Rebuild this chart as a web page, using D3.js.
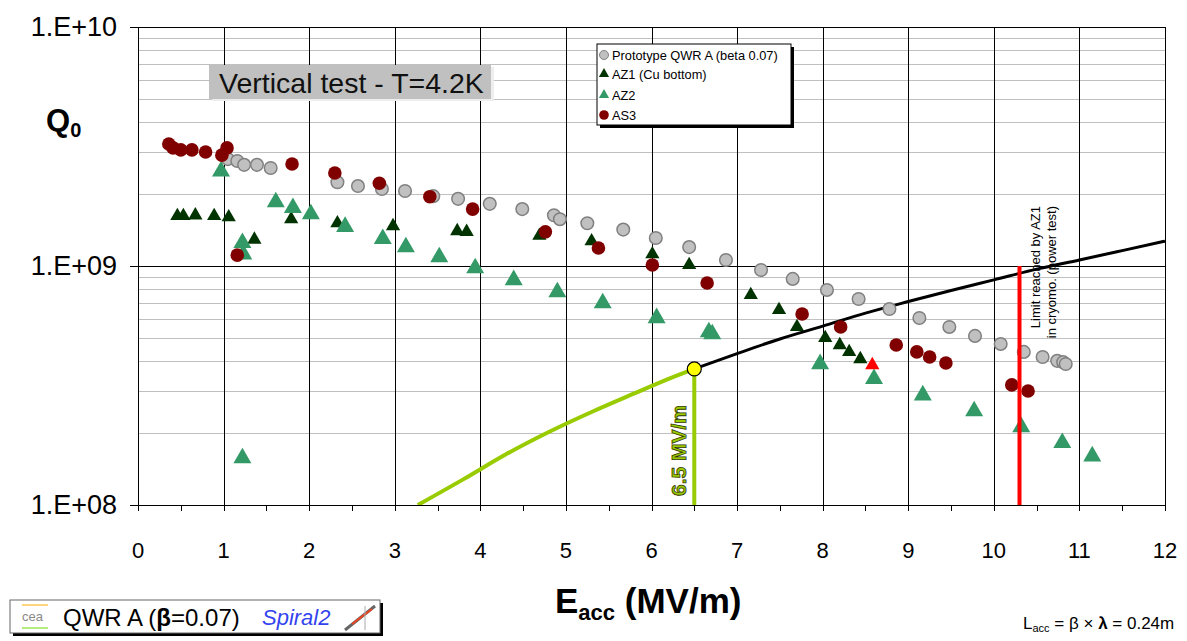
<!DOCTYPE html>
<html>
  <head>
    <script src="https://d3js.org/d3.v7.min.js"></script>
    <style>
      body,
      html {
        margin: 0;
        padding: 0;
        background: #fff;
        font-family: "Liberation Sans", Arial, sans-serif;
        overflow: hidden;
      }
    </style>
    <title>QWR A - Q0 vs Eacc</title>
  </head>

  <body>
    <svg id="chart" width="1187" height="641"></svg>

    <script>
      // Prototype QWR A (beta 0.07)
      var protoE = [1.05, 1.16, 1.24, 1.39, 1.55, 2.33, 2.57, 2.85, 3.12, 3.45, 3.74, 4.11, 4.49, 4.86, 4.93, 5.25, 5.67, 6.05, 6.44, 6.87, 7.28, 7.65, 8.05, 8.42, 8.78, 9.13, 9.48, 9.78, 10.08, 10.35, 10.57, 10.74, 10.81, 10.84];
      var protoQ = [2.8e9, 2.75e9, 2.65e9, 2.65e9, 2.57e9, 2.24e9, 2.16e9, 2.1e9, 2.06e9, 1.96e9, 1.91e9, 1.82e9, 1.73e9, 1.63e9, 1.57e9, 1.51e9, 1.42e9, 1.31e9, 1.2e9, 1.06e9, 9.62e8, 8.83e8, 7.94e8, 7.28e8, 6.61e8, 6.06e8, 5.56e8, 5.1e8, 4.72e8, 4.37e8, 4.16e8, 4.01e8, 3.96e8, 3.89e8];

      // AZ1 (Cu bottom)
      var az1E = [0.46, 0.53, 0.67, 0.89, 1.06, 1.36, 1.79, 2.33, 2.98, 3.73, 3.84, 4.69, 5.3, 6.01, 6.44, 7.16, 7.49, 7.7, 8.03, 8.2, 8.31, 8.44];
      var az1Q = [1.62e9, 1.62e9, 1.63e9, 1.62e9, 1.6e9, 1.29e9, 1.57e9, 1.51e9, 1.47e9, 1.4e9, 1.39e9, 1.34e9, 1.27e9, 1.12e9, 1.01e9, 7.57e8, 6.55e8, 5.56e8, 5.0e8, 4.67e8, 4.37e8, 4.08e8];
      // last AZ1 point, shown in red
      var az1LastE = [8.58];
      var az1LastQ = [3.85e8];

      // AZ2
      var az2E = [0.97, 1.22, 1.23, 1.22, 1.61, 1.81, 2.02, 2.42, 2.86, 3.13, 3.52, 3.94, 4.39, 4.9, 5.43, 6.06, 6.67, 6.71, 7.97, 8.6, 9.17, 9.77, 10.32, 10.8, 11.15];
      var az2Q = [2.49e9, 1.25e9, 1.12e9, 1.57e8, 1.85e9, 1.75e9, 1.65e9, 1.46e9, 1.3e9, 1.2e9, 1.09e9, 9.8e8, 8.74e8, 7.78e8, 6.99e8, 6.06e8, 5.29e8, 5.19e8, 3.89e8, 3.37e8, 2.88e8, 2.47e8, 2.12e8, 1.82e8, 1.6e8];

      // AS3
      var as3E = [0.36, 0.41, 0.5, 0.63, 0.79, 0.98, 1.04, 1.16, 1.8, 2.3, 2.82, 3.41, 3.91, 4.76, 5.38, 6.01, 6.65, 7.76, 8.21, 8.86, 9.1, 9.25, 9.44, 10.21, 10.4];
      var as3Q = [3.24e9, 3.12e9, 3.06e9, 3.06e9, 3.0e9, 2.91e9, 3.12e9, 1.11e9, 2.67e9, 2.45e9, 2.22e9, 1.95e9, 1.73e9, 1.39e9, 1.19e9, 1.01e9, 8.49e8, 6.3e8, 5.56e8, 4.67e8, 4.37e8, 4.16e8, 3.93e8, 3.18e8, 3.0e8];

      // limit curves
      var greenE = [3.27, 3.8, 4.3, 4.8, 5.3, 5.8, 6.2, 6.5];
      var greenQ = [1.0e8, 1.28e8, 1.63e8, 2.02e8, 2.45e8, 2.93e8, 3.37e8, 3.71e8];
      var blackE = [6.5, 7, 7.5, 8, 8.5, 9, 9.5, 10, 10.5, 11, 11.5, 12];
      var blackQ = [3.71e8, 4.3e8, 4.95e8, 5.6e8, 6.35e8, 7.1e8, 7.9e8, 8.75e8, 9.7e8, 1.06e9, 1.16e9, 1.27e9];

      var opPointE = 6.5;
      var opPointQ = 3.71e8;
      var limitE = 10.3;

      var xTicks = [0, 1, 2, 3, 4, 5, 6, 7, 8, 9, 10, 11, 12];
      var yTicks = [1e8, 1e9, 1e10];
      var yTickLabels = ["1.E+08", "1.E+09", "1.E+10"];

      var legendNames = ["Prototype QWR A (beta 0.07)", "AZ1 (Cu bottom)", "AZ2", "AS3"];

      function zip(xs, ys) {
        return xs.map(function (v, i) {
          return [v, ys[i]];
        });
      }

      var svg = d3.select("#chart");
      var pLeft = 138, pRight = 1165, pTop = 27, pBottom = 505;

      var x = d3.scaleLinear().domain([0, 12]).range([pLeft, pRight]);
      var y = d3.scaleLog().domain([1e8, 1e10]).range([pBottom, pTop]);

      svg.append("defs")
        .append("clipPath")
        .attr("id", "plot-clip")
        .append("rect")
        .attr("x", pLeft)
        .attr("y", pTop)
        .attr("width", pRight - pLeft)
        .attr("height", pBottom - pTop);

      // minor horizontal grid
      var minor = [];
      [1e8, 1e9].forEach(function (d) {
        for (var k = 2; k <= 9; k++) minor.push(d * k);
      });
      svg.append("g")
        .selectAll("line")
        .data(minor)
        .enter()
        .append("line")
        .attr("x1", pLeft)
        .attr("x2", pRight)
        .attr("y1", function (d) { return Math.round(y(d)) + 0.5; })
        .attr("y2", function (d) { return Math.round(y(d)) + 0.5; })
        .attr("stroke", "#c0c0c0")
        .attr("stroke-width", 1);

      // major vertical grid
      svg.append("g")
        .selectAll("line")
        .data(xTicks)
        .enter()
        .append("line")
        .attr("x1", function (d) { return Math.round(x(d)) + 0.5; })
        .attr("x2", function (d) { return Math.round(x(d)) + 0.5; })
        .attr("y1", pTop)
        .attr("y2", pBottom)
        .attr("stroke", "#000")
        .attr("stroke-width", 1);

      // major horizontal grid
      svg.append("g")
        .selectAll("line")
        .data(yTicks)
        .enter()
        .append("line")
        .attr("x1", pLeft - 8)
        .attr("x2", pRight)
        .attr("y1", function (d) { return Math.round(y(d)) + 0.5; })
        .attr("y2", function (d) { return Math.round(y(d)) + 0.5; })
        .attr("stroke", "#000")
        .attr("stroke-width", 1);

      // x axis ticks (half units)
      var xMinorTicks = d3.range(0, 12.01, 0.5);
      svg.append("g")
        .selectAll("line")
        .data(xMinorTicks)
        .enter()
        .append("line")
        .attr("x1", function (d) { return Math.round(x(d)) + 0.5; })
        .attr("x2", function (d) { return Math.round(x(d)) + 0.5; })
        .attr("y1", pBottom)
        .attr("y2", pBottom + 6)
        .attr("stroke", "#000");

      // tick labels
      svg.append("g")
        .selectAll("text")
        .data(xTicks)
        .enter()
        .append("text")
        .attr("x", function (d) { return x(d); })
        .attr("y", 558)
        .attr("text-anchor", "middle")
        .attr("font-size", 22)
        .text(function (d) { return d; });

      svg.append("g")
        .selectAll("text")
        .data(yTicks)
        .enter()
        .append("text")
        .attr("x", 117)
        .attr("y", function (d) { return y(d) + 9; })
        .attr("text-anchor", "end")
        .attr("font-size", 27)
        .text(function (d, i) { return yTickLabels[i]; });

      // axis titles
      var qt = svg.append("text")
        .attr("x", 46)
        .attr("y", 131)
        .attr("font-size", 31)
        .attr("font-weight", "bold");
      qt.append("tspan").text("Q");
      qt.append("tspan").attr("font-size", 20).attr("dy", 6).text("0");

      var et = svg.append("text")
        .attr("x", 555)
        .attr("y", 613)
        .attr("font-size", 35)
        .attr("font-weight", "bold");
      et.append("tspan").text("E");
      et.append("tspan").attr("font-size", 22).attr("dy", 7).text("acc");
      et.append("tspan").attr("dy", -7).text(" (MV/m)");

      // curves
      var line = d3.line()
        .x(function (d) { return x(d[0]); })
        .y(function (d) { return y(d[1]); })
        .curve(d3.curveMonotoneX);

      var curves = svg.append("g").attr("clip-path", "url(#plot-clip)");
      curves.append("path")
        .attr("d", line(zip(greenE, greenQ)))
        .attr("fill", "none")
        .attr("stroke", "#99cc00")
        .attr("stroke-width", 4);
      curves.append("path")
        .attr("d", line(zip(blackE, blackQ)))
        .attr("fill", "none")
        .attr("stroke", "#000")
        .attr("stroke-width", 3);

      // markers
      var marks = svg.append("g");
      marks.selectAll(".proto")
        .data(zip(protoE, protoQ))
        .enter()
        .append("circle")
        .attr("cx", function (d) { return x(d[0]); })
        .attr("cy", function (d) { return y(d[1]); })
        .attr("r", 6.3)
        .attr("fill", "#c0c0c0")
        .attr("stroke", "#808080")
        .attr("stroke-width", 1.5);

      var triSmall = d3.symbol().type(d3.symbolTriangle).size(88);
      var triBig = d3.symbol().type(d3.symbolTriangle).size(140);

      marks.selectAll(".az1")
        .data(zip(az1E, az1Q))
        .enter()
        .append("path")
        .attr("d", triSmall)
        .attr("transform", function (d) { return "translate(" + x(d[0]) + "," + y(d[1]) + ")"; })
        .attr("fill", "#003300");

      marks.selectAll(".az2")
        .data(zip(az2E, az2Q))
        .enter()
        .append("path")
        .attr("d", triBig)
        .attr("transform", function (d) { return "translate(" + x(d[0]) + "," + y(d[1]) + ")"; })
        .attr("fill", "#339966");

      marks.selectAll(".az1last")
        .data(zip(az1LastE, az1LastQ))
        .enter()
        .append("path")
        .attr("d", triSmall)
        .attr("transform", function (d) { return "translate(" + x(d[0]) + "," + y(d[1]) + ")"; })
        .attr("fill", "#ff0000");

      marks.selectAll(".as3")
        .data(zip(as3E, as3Q))
        .enter()
        .append("circle")
        .attr("cx", function (d) { return x(d[0]); })
        .attr("cy", function (d) { return y(d[1]); })
        .attr("r", 6.8)
        .attr("fill", "#800000");

      // operating point and limit lines
      svg.append("line")
        .attr("x1", x(opPointE))
        .attr("x2", x(opPointE))
        .attr("y1", y(opPointQ))
        .attr("y2", pBottom)
        .attr("stroke", "#99cc00")
        .attr("stroke-width", 4);
      svg.append("circle")
        .attr("cx", x(opPointE))
        .attr("cy", y(opPointQ))
        .attr("r", 7)
        .attr("fill", "#ffff00")
        .attr("stroke", "#000")
        .attr("stroke-width", 1.2);
      svg.append("text")
        .attr("transform", "translate(686,496) rotate(-90)")
        .attr("font-size", 21)
        .attr("font-weight", "bold")
        .attr("fill", "#99cc00")
        .attr("stroke", "#333300")
        .attr("stroke-width", 0.8)
        .text("6.5 MV/m");

      svg.append("line")
        .attr("x1", x(limitE))
        .attr("x2", x(limitE))
        .attr("y1", y(1e9))
        .attr("y2", pBottom)
        .attr("stroke", "#ff0000")
        .attr("stroke-width", 4);

      var lt = svg.append("text")
        .attr("transform", "translate(" + (x(limitE) + 20) + ",206) rotate(-90)")
        .attr("font-size", 13)
        .attr("text-anchor", "end");
      lt.append("tspan").attr("x", 0).attr("dy", 0).text("Limit reached by AZ1");
      lt.append("tspan").attr("x", 0).attr("dy", 16).text("in cryomo. (power test)");

      // title box
      svg.append("rect")
        .attr("x", 212)
        .attr("y", 67)
        .attr("width", 282)
        .attr("height", 34)
        .attr("fill", "#eeeeee");
      svg.append("rect")
        .attr("x", 209)
        .attr("y", 65)
        .attr("width", 282)
        .attr("height", 34)
        .attr("fill", "#c0c0c0");
      svg.append("text")
        .attr("x", 219)
        .attr("y", 93)
        .attr("font-size", 28.5)
        .attr("fill", "#111")
        .text("Vertical test - T=4.2K");

      // legend
      var lg = svg.append("g").attr("transform", "translate(597,44)");
      lg.append("rect").attr("x", 3).attr("y", 3).attr("width", 194).attr("height", 81).attr("fill", "#000");
      lg.append("rect").attr("width", 194).attr("height", 81).attr("fill", "#fff").attr("stroke", "#000");
      var rowY = [11, 30, 51, 71];
      legendNames.forEach(function (name, i) {
        var g = lg.append("g").attr("transform", "translate(7," + rowY[i] + ")");
        if (i === 0) g.append("circle").attr("r", 4.5).attr("fill", "#c0c0c0").attr("stroke", "#808080");
        if (i === 1) g.append("path").attr("d", d3.symbol().type(d3.symbolTriangle).size(45)).attr("fill", "#003300");
        if (i === 2) g.append("path").attr("d", d3.symbol().type(d3.symbolTriangle).size(45)).attr("fill", "#339966");
        if (i === 3) g.append("circle").attr("r", 4.8).attr("fill", "#800000");
        lg.append("text")
          .attr("x", 15)
          .attr("y", rowY[i] + 4.5)
          .attr("font-size", 12.8)
          .text(name);
      });

      // bottom left label box
      var bl = svg.append("g").attr("transform", "translate(10,600)");
      bl.append("rect").attr("x", 3).attr("y", 3).attr("width", 370).attr("height", 33).attr("fill", "#000");
      bl.append("rect").attr("width", 370).attr("height", 33).attr("fill", "#fff").attr("stroke", "#666");
      bl.append("line").attr("x1", 12).attr("x2", 38).attr("y1", 5).attr("y2", 5).attr("stroke", "#ffaa00");
      bl.append("line").attr("x1", 12).attr("x2", 38).attr("y1", 28).attr("y2", 28).attr("stroke", "#66dd00");
      bl.append("text").attr("x", 12).attr("y", 21).attr("font-size", 13).attr("fill", "#888").text("cea");
      var qw = bl.append("text").attr("x", 53).attr("y", 26).attr("font-size", 24);
      qw.append("tspan").text("QWR A (");
      qw.append("tspan").attr("font-weight", "bold").text("β");
      qw.append("tspan").text("=0.07)");
      bl.append("text")
        .attr("x", 252)
        .attr("y", 25)
        .attr("font-size", 22)
        .attr("font-style", "italic")
        .attr("fill", "#3344ee")
        .text("Spiral2");
      bl.append("line").attr("x1", 335).attr("x2", 365).attr("y1", 30).attr("y2", 6).attr("stroke", "#666").attr("stroke-width", 3);
      bl.append("line").attr("x1", 342).attr("x2", 362).attr("y1", 24).attr("y2", 9).attr("stroke", "#ee4422").attr("stroke-width", 2);
      bl.append("line").attr("x1", 355).attr("x2", 355).attr("y1", 6).attr("y2", 30).attr("stroke", "#aaa");

      // bottom right formula
      var ft = svg.append("text").attr("x", 1023).attr("y", 629).attr("font-size", 17);
      ft.append("tspan").text("L");
      ft.append("tspan").attr("font-size", 11).attr("dy", 3).text("acc");
      ft.append("tspan").attr("dy", -3).text(" = β × ");
      ft.append("tspan").attr("font-weight", "bold").text("λ");
      ft.append("tspan").text(" = 0.24m");
    </script>
  </body>
</html>
